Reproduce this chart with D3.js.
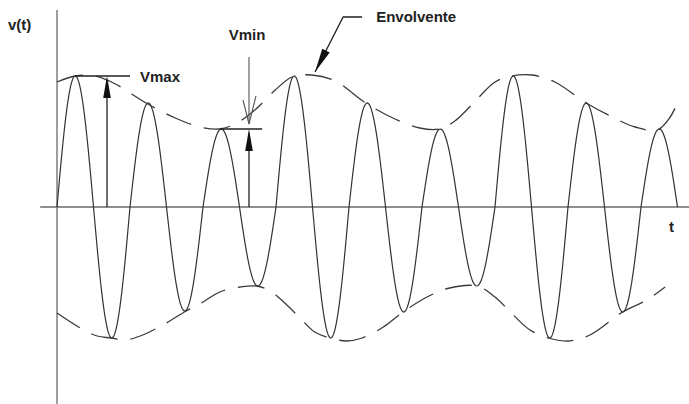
<!DOCTYPE html>
<html>
<head>
<meta charset="utf-8">
<script src="https://cdn.jsdelivr.net/npm/d3@7"></script>
<style>
  html, body { margin: 0; padding: 0; background: #fff; }
  svg text { font-family: "Liberation Sans", Arial, sans-serif; font-weight: bold; fill: #222; }
</style>
</head>
<body>
<svg id="chart" width="689" height="404"></svg>
<script>
// AM signal: carrier amplitude for each half cycle (carrier period = 1 time unit)
const halfCycleAmplitudes = [1.31, -1.31, 1.04, -1.04, 0.78, -0.79, 1.31, -1.31, 1.04, -1.05, 0.78, -0.79, 1.31, -1.31, 1.04, -1.05, 0.78];

// Upper envelope (t, v)
const upperEnvT = [0, 0.25, 0.52, 0.80, 1.22, 1.62, 1.96, 2.22, 2.44, 2.71, 2.99, 3.22, 3.49, 3.81, 4.23, 4.63, 4.97, 5.23, 5.45, 5.73, 6.00, 6.23, 6.51, 6.82, 7.25, 7.58, 7.92, 8.22, 8.40, 8.51];
const upperEnvV = [1.25, 1.31, 1.31, 1.23, 1.04, 0.89, 0.80, 0.78, 0.83, 0.97, 1.17, 1.30, 1.32, 1.26, 1.04, 0.88, 0.79, 0.78, 0.86, 1.06, 1.25, 1.31, 1.32, 1.25, 1.04, 0.91, 0.80, 0.77, 0.90, 1.06];

// Lower envelope (t, v)
const lowerEnvT = [0, 0.32, 0.55, 0.74, 0.93, 1.14, 1.45, 1.77, 2.00, 2.23, 2.51, 2.73, 2.92, 3.12, 3.33, 3.53, 3.74, 3.97, 4.18, 4.47, 4.74, 5.07, 5.38, 5.75, 6.00, 6.25, 6.48, 6.73, 6.99, 7.30, 7.75, 8.08, 8.33];
const lowerEnvV = [-1.06, -1.21, -1.29, -1.31, -1.33, -1.29, -1.18, -1.04, -0.95, -0.85, -0.80, -0.79, -0.84, -0.96, -1.11, -1.25, -1.31, -1.34, -1.31, -1.20, -1.05, -0.90, -0.81, -0.79, -0.90, -1.08, -1.23, -1.31, -1.34, -1.28, -1.05, -0.93, -0.80];

// Axis extents
const timeAxisRange = [-0.23, 8.66];
const voltAxisRange = [-2.0, 1.97];

// Annotation anchors (t, v)
const vmaxMarker = { t: 0.685, v: 1.31, lineFrom: 0.247, lineTo: 1.0 };
const vminMarker = { t: 2.63, v: 0.78, lineFrom: 2.233, lineTo: 2.81, pointerTop: 1.50, pointerTip: 0.83 };
const envelopePointer = { tip: { t: 3.535, v: 1.35 }, elbow: { t: 3.92, v: 1.90 }, end: { t: 4.18, v: 1.90 } };

const labels = { yAxis: "v(t)", xAxis: "t", vmax: "Vmax", vmin: "Vmin", envelope: "Envolvente" };

const svg = d3.select("#chart");
const x = d3.scaleLinear().domain([0, 8.5]).range([57, 677.5]);
const y = d3.scaleLinear().domain([-2, 2]).range([407, 7]);

const axisColor = "#6a6a6a";
const ink = "#333";

// axes
svg.append("line")
  .attr("x1", x(timeAxisRange[0])).attr("x2", x(timeAxisRange[1]))
  .attr("y1", y(0)).attr("y2", y(0))
  .attr("stroke", axisColor).attr("stroke-width", 1.3);
svg.append("line")
  .attr("x1", x(0)).attr("x2", x(0))
  .attr("y1", y(voltAxisRange[1])).attr("y2", y(voltAxisRange[0]))
  .attr("stroke", axisColor).attr("stroke-width", 1.3);

// carrier: each half cycle is a sine lobe scaled by its amplitude
const samplesPerHalf = 40;
const carrier = [];
halfCycleAmplitudes.forEach((a, k) => {
  for (let i = (k === 0 ? 0 : 1); i <= samplesPerHalf; i++) {
    const f = i / samplesPerHalf;
    carrier.push([k * 0.5 + f * 0.5, a * Math.sin(Math.PI * f)]);
  }
});
const line = d3.line().x(d => x(d[0])).y(d => y(d[1]));
svg.append("path")
  .attr("d", line(carrier))
  .attr("fill", "none").attr("stroke", ink).attr("stroke-width", 1.2);

// envelopes (dashed)
const envLine = d3.line().x(d => x(d[0])).y(d => y(d[1])).curve(d3.curveCatmullRom.alpha(0.5));
[[upperEnvT, upperEnvV], [lowerEnvT, lowerEnvV]].forEach(([ts, vs]) => {
  svg.append("path")
    .attr("d", envLine(ts.map((t, i) => [t, vs[i]])))
    .attr("fill", "none").attr("stroke", "#3a3a3a").attr("stroke-width", 1.3)
    .attr("stroke-dasharray", "27,13");
});

// filled arrowhead helper: tip at (px,py), pointing along angle from (fx,fy)
function arrowHead(px, py, fx, fy, len, half) {
  const ang = Math.atan2(py - fy, px - fx);
  const bx = px - len * Math.cos(ang), by = py - len * Math.sin(ang);
  const nx = -Math.sin(ang) * half, ny = Math.cos(ang) * half;
  svg.append("path")
    .attr("d", `M${px},${py}L${bx + nx},${by + ny}L${bx - nx},${by - ny}Z`)
    .attr("fill", "#111");
}

// Vmax marker
svg.append("line")
  .attr("x1", x(vmaxMarker.lineFrom)).attr("x2", x(vmaxMarker.lineTo))
  .attr("y1", y(vmaxMarker.v)).attr("y2", y(vmaxMarker.v))
  .attr("stroke", "#222").attr("stroke-width", 1.3);
svg.append("line")
  .attr("x1", x(vmaxMarker.t)).attr("x2", x(vmaxMarker.t))
  .attr("y1", y(0)).attr("y2", y(vmaxMarker.v) + 4)
  .attr("stroke", "#222").attr("stroke-width", 1.3);
arrowHead(x(vmaxMarker.t), y(vmaxMarker.v), x(vmaxMarker.t), y(0), 22, 3.8);
svg.append("text").attr("x", x(vmaxMarker.lineTo) + 10).attr("y", y(vmaxMarker.v) + 5.5)
  .attr("font-size", 15).text(labels.vmax);

// Vmin marker
svg.append("line")
  .attr("x1", x(vminMarker.lineFrom)).attr("x2", x(vminMarker.lineTo))
  .attr("y1", y(vminMarker.v)).attr("y2", y(vminMarker.v))
  .attr("stroke", "#222").attr("stroke-width", 1.3);
svg.append("line")
  .attr("x1", x(vminMarker.t)).attr("x2", x(vminMarker.t))
  .attr("y1", y(0)).attr("y2", y(vminMarker.v) + 4)
  .attr("stroke", "#222").attr("stroke-width", 1.3);
arrowHead(x(vminMarker.t), y(vminMarker.v), x(vminMarker.t), y(0), 22, 3.8);
// pointer from above with open head
const pTipY = y(vminMarker.pointerTip);
svg.append("line")
  .attr("x1", x(vminMarker.t)).attr("x2", x(vminMarker.t))
  .attr("y1", y(vminMarker.pointerTop)).attr("y2", pTipY)
  .attr("stroke", "#555").attr("stroke-width", 1.1);
svg.append("path")
  .attr("d", `M${x(vminMarker.t) - 6},${pTipY - 24}L${x(vminMarker.t)},${pTipY}L${x(vminMarker.t) + 7},${pTipY - 28}`)
  .attr("fill", "none").attr("stroke", "#555").attr("stroke-width", 1.1);
svg.append("text").attr("x", x(vminMarker.t) - 2).attr("y", 40)
  .attr("text-anchor", "middle").attr("font-size", 15).text(labels.vmin);

// envelope pointer
const ep = envelopePointer;
svg.append("path")
  .attr("d", `M${x(ep.end.t)},${y(ep.end.v)}L${x(ep.elbow.t)},${y(ep.elbow.v)}L${x(ep.tip.t)},${y(ep.tip.v)}`)
  .attr("fill", "none").attr("stroke", "#222").attr("stroke-width", 1.3);
arrowHead(x(ep.tip.t), y(ep.tip.v), x(ep.elbow.t), y(ep.elbow.v), 24, 4.2);
svg.append("text").attr("x", x(ep.end.t) + 14).attr("y", y(ep.end.v) + 5)
  .attr("font-size", 15).text(labels.envelope);

// axis labels
svg.append("text").attr("x", 8).attr("y", 30).attr("font-size", 15).text(labels.yAxis);
svg.append("text").attr("x", 669).attr("y", 232).attr("font-size", 15).text(labels.xAxis);
</script>
</body>
</html>
